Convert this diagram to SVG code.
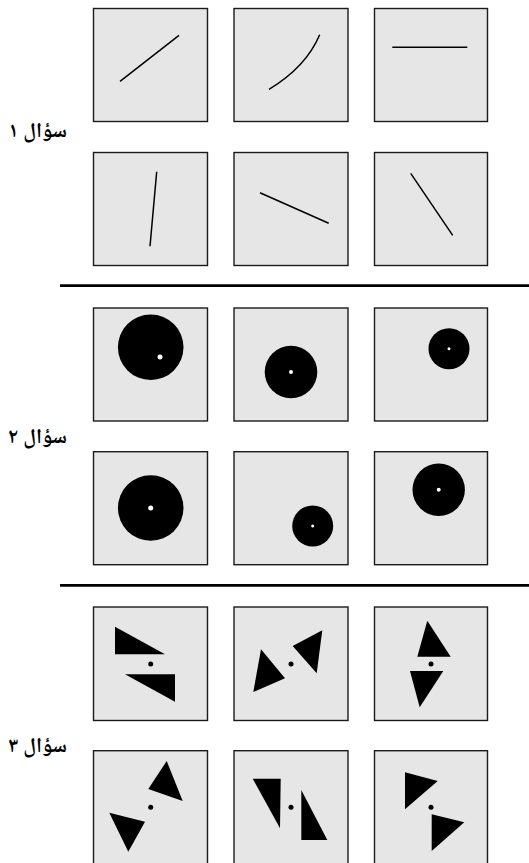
<svg xmlns="http://www.w3.org/2000/svg" width="529" height="863" viewBox="0 0 529 863">
<style>
.box{fill:#e6e6e6;stroke:#1a1a1a;stroke-width:1.4}
.ln{fill:none;stroke:#000;stroke-width:1.5;stroke-linecap:butt}
.sep{stroke:#000;stroke-width:2.8}
.lbl{font-family:'Noto Naskh Arabic','DejaVu Sans',sans-serif;font-weight:bold;font-size:21px;fill:#000}
.dot{fill:#fff}
</style>
<rect width="529" height="863" fill="#fff"/>
<g id="labels">
<text class="lbl" x="67" y="137" direction="rtl" text-anchor="start">سؤال ۱</text>
<text class="lbl" x="67" y="443" direction="rtl" text-anchor="start">سؤال ۲</text>
<text class="lbl" x="67" y="752" direction="rtl" text-anchor="start">سؤال ۳</text>
</g>
<g id="separators">
<line class="sep" x1="60" y1="285.7" x2="529" y2="285.7"/>
<line class="sep" x1="60" y1="585.3" x2="529" y2="585.3"/>
</g>
<g id="q1">
<g id="q1-1"><rect class="box" x="93.5" y="8.5" width="114" height="113"/><line class="ln" x1="120" y1="81.3" x2="179" y2="35.3"/></g>
<g id="q1-2"><rect class="box" x="234" y="8.5" width="114" height="113"/><path class="ln" d="M269,89.3 Q306,67 319.7,34.7"/></g>
<g id="q1-3"><rect class="box" x="374.5" y="8.5" width="113" height="113"/><line class="ln" x1="392.3" y1="47.3" x2="467.3" y2="47.3"/></g>
<g id="q1-4"><rect class="box" x="93.5" y="152.5" width="114" height="113"/><line class="ln" x1="156.7" y1="171.7" x2="150" y2="246.3"/></g>
<g id="q1-5"><rect class="box" x="234" y="152.5" width="114" height="113"/><line class="ln" x1="260" y1="192.7" x2="328.7" y2="223.3"/></g>
<g id="q1-6"><rect class="box" x="374.5" y="152.5" width="113" height="113"/><line class="ln" x1="410.7" y1="173.3" x2="452.7" y2="235.3"/></g>
</g>
<g id="q2">
<g id="q2-1"><rect class="box" x="93.5" y="308" width="114" height="113"/><circle cx="150.7" cy="347.3" r="32.8"/><circle class="dot" cx="160" cy="357" r="2.5"/></g>
<g id="q2-2"><rect class="box" x="234" y="308" width="114" height="113"/><circle cx="291" cy="372" r="26.3"/><circle class="dot" cx="291" cy="372" r="2"/></g>
<g id="q2-3"><rect class="box" x="374.5" y="308" width="113" height="113"/><circle cx="449" cy="348.7" r="20.5"/><circle class="dot" cx="449" cy="348.7" r="1.5"/></g>
<g id="q2-4"><rect class="box" x="93.5" y="451.7" width="114" height="113"/><circle cx="150.7" cy="508" r="32.8"/><circle class="dot" cx="150.7" cy="508" r="2.5"/></g>
<g id="q2-5"><rect class="box" x="234" y="451.7" width="114" height="113"/><circle cx="312.7" cy="526" r="20.5"/><circle class="dot" cx="312.7" cy="526" r="1.5"/></g>
<g id="q2-6"><rect class="box" x="374.5" y="451.7" width="113" height="113"/><circle cx="438.7" cy="489.7" r="26.2"/><circle class="dot" cx="438.7" cy="489.7" r="2"/></g>
</g>
<g id="q3">
<g id="q3-1"><rect class="box" x="93.5" y="607" width="114" height="113.5"/><polygon points="115,626.7 115,654.3 165,654.3"/><polygon points="125,674.3 175,674.3 175,701.7"/><circle cx="150.7" cy="664" r="2.5"/></g>
<g id="q3-2"><rect class="box" x="234" y="607" width="114" height="113.5"/><polygon points="261,649.3 253.3,692 285,678.3"/><polygon points="322.3,630.3 316.7,673.3 292.7,646"/><circle cx="291" cy="664" r="2.5"/></g>
<g id="q3-3"><rect class="box" x="374.5" y="607" width="113" height="113.5"/><polygon points="427.3,620.7 417.3,656.7 450.7,656.7"/><polygon points="410,671 443.3,671 419.7,707.3"/><circle cx="431" cy="664" r="2.5"/></g>
<g id="q3-4"><rect class="box" x="93.5" y="750.7" width="114" height="120"/><polygon points="166.7,761 148.3,789 182.7,801"/><polygon points="109.3,812.7 145,821.7 128.3,851.7"/><circle cx="150.7" cy="807.3" r="2.5"/></g>
<g id="q3-5"><rect class="box" x="234" y="750.7" width="114" height="120"/><polygon points="252.7,778.7 280.7,778.7 280,828.3"/><polygon points="301.3,790 327.3,840 301.3,840"/><circle cx="291" cy="807.3" r="2.5"/></g>
<g id="q3-6"><rect class="box" x="374.5" y="750.7" width="113" height="120"/><polygon points="405,772.3 437.7,781 405,809.3"/><polygon points="431.7,814.3 464.3,822.3 431.7,851"/><circle cx="431" cy="807.3" r="2.5"/></g>
</g>
</svg>
